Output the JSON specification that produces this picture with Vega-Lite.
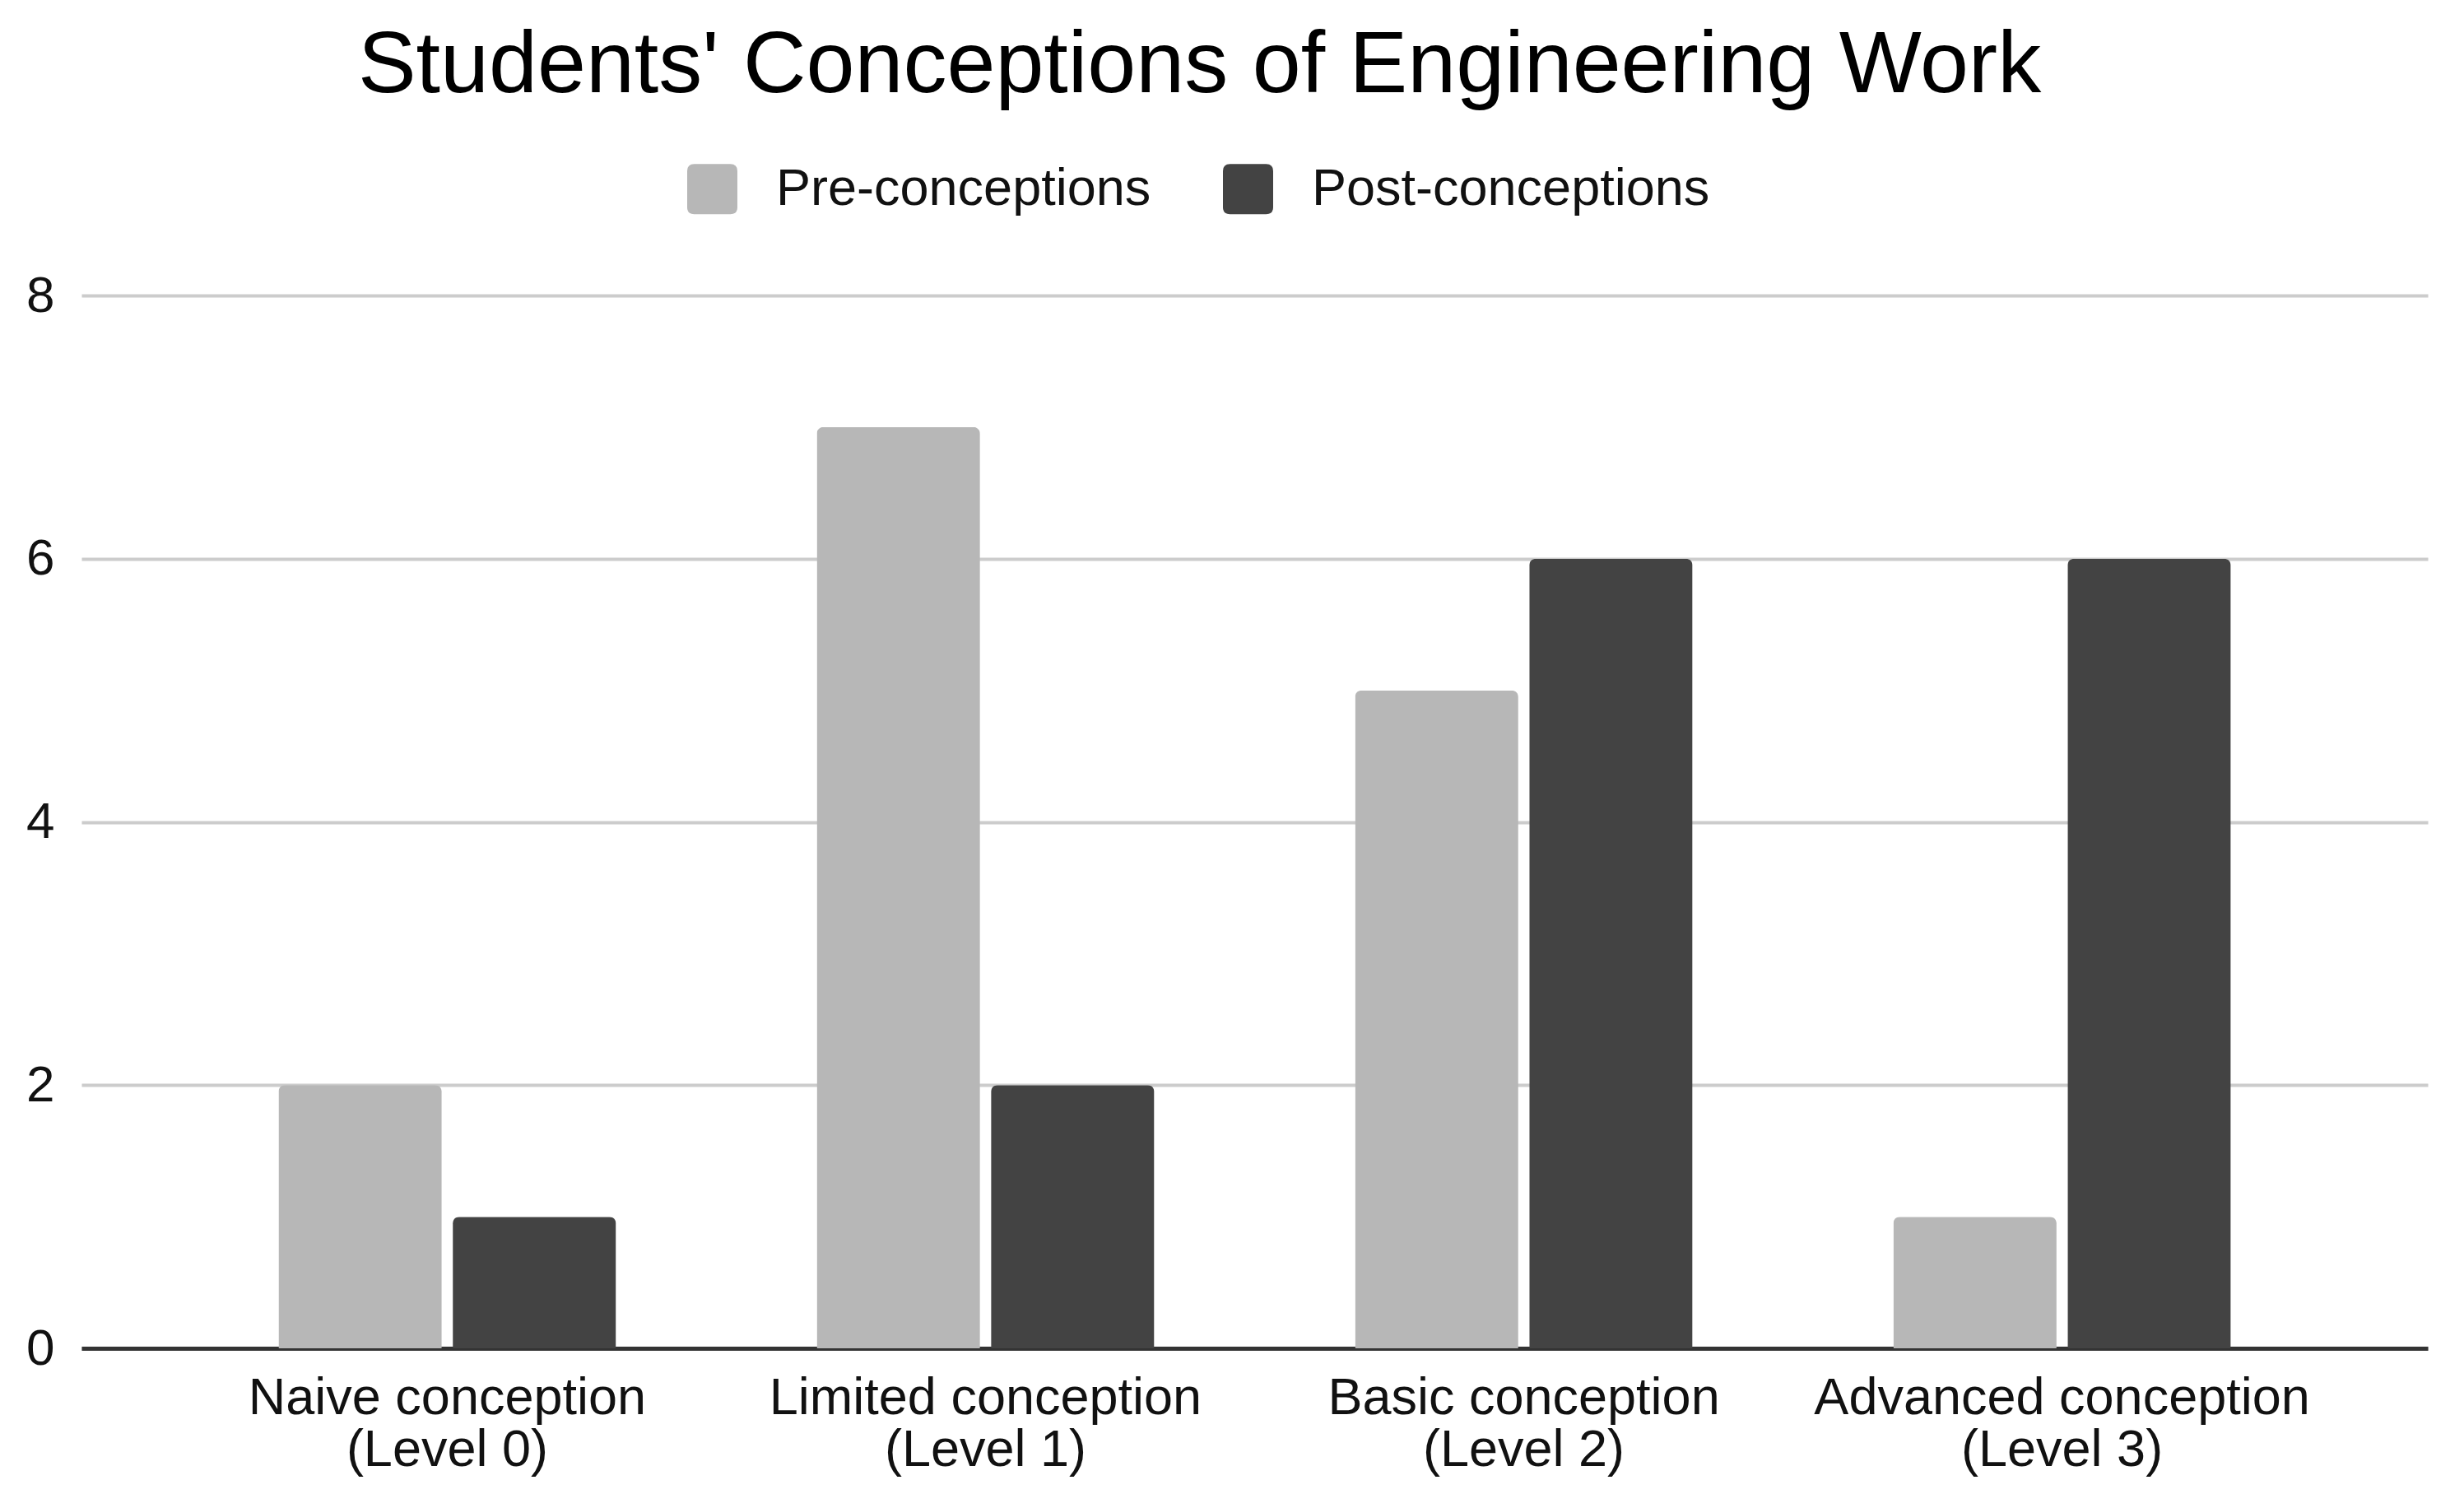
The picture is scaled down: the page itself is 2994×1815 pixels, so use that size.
{
  "$schema": "https://vega.github.io/schema/vega-lite/v6.json",
  "width": 2851,
  "height": 1279,
  "autosize": {"type": "none"},
  "padding": {"left": 99, "top": 359, "right": 44, "bottom": 177},
  "background": "#ffffff",
  "title": {
    "text": "Students' Conceptions of Engineering Work",
    "anchor": "middle",
    "frame": "group",
    "dx": -67,
    "dy": 20,
    "font": "Liberation Sans",
    "fontSize": 106,
    "fontWeight": "normal",
    "color": "#000000",
    "baseline": "alphabetic",
    "offset": 0
  },
  "data": {
    "values": [
      {"category": "Naive conception (Level 0)", "series": "Pre-conceptions", "count": 2},
      {"category": "Naive conception (Level 0)", "series": "Post-conceptions", "count": 1},
      {"category": "Limited conception (Level 1)", "series": "Pre-conceptions", "count": 7},
      {"category": "Limited conception (Level 1)", "series": "Post-conceptions", "count": 2},
      {"category": "Basic conception (Level 2)", "series": "Pre-conceptions", "count": 5},
      {"category": "Basic conception (Level 2)", "series": "Post-conceptions", "count": 6},
      {"category": "Advanced conception (Level 3)", "series": "Pre-conceptions", "count": 1},
      {"category": "Advanced conception (Level 3)", "series": "Post-conceptions", "count": 6}
    ]
  },
  "mark": {"type": "bar", "cornerRadiusTopLeft": 8, "cornerRadiusTopRight": 8},
  "encoding": {
    "x": {
      "field": "category",
      "type": "nominal",
      "sort": null,
      "scale": {"paddingInner": 0.373, "paddingOuter": 0.366},
      "axis": {
        "title": null,
        "labelAngle": 0,
        "ticks": false,
        "domain": true,
        "domainColor": "#333333",
        "domainWidth": 5,
        "labelFont": "Liberation Sans",
        "labelFontSize": 63,
        "labelColor": "#111111",
        "labelLineHeight": 63,
        "labelPadding": 29,
        "labelLimit": 0,
        "labelExpr": "[slice(datum.label, 0, indexof(datum.label, ' (')), slice(datum.label, indexof(datum.label, ' (') + 1)]"
      }
    },
    "xOffset": {
      "field": "series",
      "type": "nominal",
      "sort": ["Pre-conceptions", "Post-conceptions"],
      "scale": {"paddingInner": 0.063, "paddingOuter": 0}
    },
    "y": {
      "field": "count",
      "type": "quantitative",
      "scale": {"domain": [0, 8], "nice": false},
      "axis": {
        "title": null,
        "values": [0, 2, 4, 6, 8],
        "ticks": false,
        "domain": false,
        "gridColor": "#cccccc",
        "gridWidth": 4,
        "labelFont": "Liberation Sans",
        "labelFontSize": 62,
        "labelColor": "#111111",
        "labelPadding": 33
      }
    },
    "color": {
      "field": "series",
      "type": "nominal",
      "sort": ["Pre-conceptions", "Post-conceptions"],
      "scale": {"domain": ["Pre-conceptions", "Post-conceptions"], "range": ["#b7b7b7", "#434343"]},
      "legend": {
        "title": null,
        "orient": "none",
        "direction": "horizontal",
        "legendX": 735,
        "legendY": -161,
        "padding": 0,
        "symbolType": "M -0.72,-1 L 0.72,-1 Q 1,-1 1,-0.72 L 1,0.72 Q 1,1 0.72,1 L -0.72,1 Q -1,1 -1,0.72 L -1,-0.72 Q -1,-1 -0.72,-1 Z",
        "symbolSize": 3721,
        "symbolStrokeWidth": 0,
        "labelFont": "Liberation Sans",
        "labelFontSize": 63,
        "labelColor": "#111111",
        "labelLimit": 0,
        "labelOffset": 46,
        "columnPadding": 86
      }
    }
  },
  "config": {"view": {"stroke": null}}
}
